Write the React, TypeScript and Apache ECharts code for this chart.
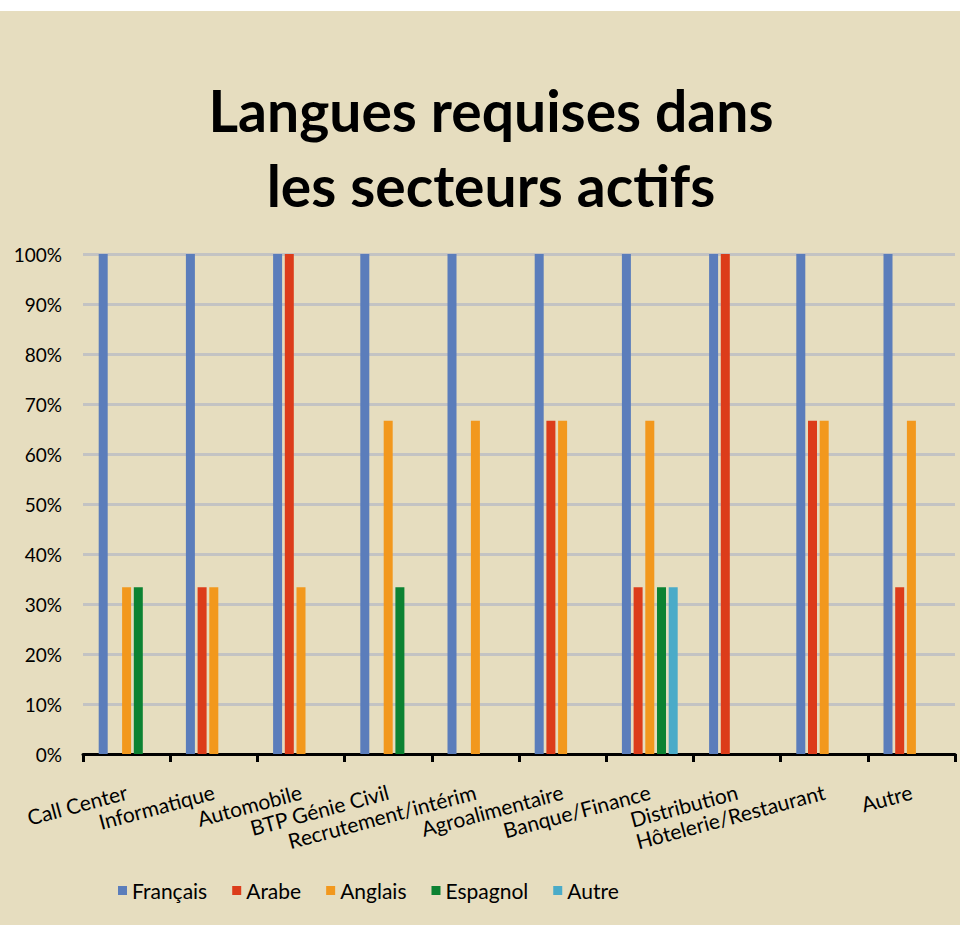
import React, { useEffect, useRef } from "react";
import * as echarts from "echarts";

const categories = [
  "Call Center",
  "Informatique",
  "Automobile",
  "BTP Génie Civil",
  "Recrutement/intérim",
  "Agroalimentaire",
  "Banque/Finance",
  "Distribution",
  "Hôtelerie/Restaurant",
  "Autre",
];

const seriesNames = ["Français", "Arabe", "Anglais", "Espagnol", "Autre"];
const seriesColors = ["#5b7dbb", "#dc3c1a", "#f2981d", "#0c8232", "#4aabc8"];

const francais = [100, 100, 100, 100, 100, 100, 100, 100, 100, 100];
const arabe = [0, 33.33, 100, 0, 0, 66.67, 33.33, 100, 66.67, 33.33];
const anglais = [33.33, 33.33, 33.33, 66.67, 66.67, 66.67, 66.67, 0, 66.67, 66.67];
const espagnol = [33.33, 0, 0, 33.33, 0, 0, 33.33, 0, 0, 0];
const autre = [0, 0, 0, 0, 0, 0, 33.33, 0, 0, 0];

const titleLines = ["Langues requises dans", "les secteurs actifs"];

const FONT = "Lato";

export default function App() {
  const ref = useRef<HTMLDivElement>(null);

  useEffect(() => {
    document.body.style.margin = "0";
    if (!ref.current) return;
    const chart = echarts.init(ref.current, null, { renderer: "svg" });
    const values = [francais, arabe, anglais, espagnol, autre];
    chart.setOption({
      animation: false,
      backgroundColor: "#e6ddbf",
      textStyle: { fontFamily: FONT },
      graphic: [
        { type: "rect", shape: { x: 0, y: 0, width: 960, height: 11 }, style: { fill: "#ffffff" } },
        {
          type: "text",
          x: 491,
          y: 110,
          style: {
            text: titleLines[0],
            font: `bold 57px ${FONT}`,
            fill: "#000",
            textAlign: "center",
            textVerticalAlign: "middle",
          },
        },
        {
          type: "text",
          x: 491,
          y: 185,
          style: {
            text: titleLines[1],
            font: `bold 57px ${FONT}`,
            fill: "#000",
            textAlign: "center",
            textVerticalAlign: "middle",
          },
        },
      ],
      grid: { left: 83, right: 5, top: 254, bottom: 171, containLabel: false },
      legend: {
        left: 113,
        top: 875,
        itemWidth: 9,
        itemHeight: 9,
        itemGap: 25,
        icon: "rect",
        textStyle: { fontSize: 21, color: "#000", fontFamily: FONT },
        data: seriesNames,
      },
      xAxis: {
        type: "category",
        data: categories,
        axisLine: { show: true, lineStyle: { color: "#000", width: 3 } },
        axisTick: { show: true, length: 8, lineStyle: { color: "#000", width: 3 } },
        axisLabel: {
          interval: 0,
          rotate: 15,
          margin: 37,
          fontSize: 21,
          color: "#000",
          fontFamily: FONT,
        },
      },
      yAxis: {
        type: "value",
        min: 0,
        max: 100,
        interval: 10,
        axisLine: { show: false },
        axisTick: { show: false },
        axisLabel: {
          formatter: "{value}%",
          fontSize: 19,
          color: "#000",
          margin: 21,
          fontFamily: FONT,
        },
        splitLine: { lineStyle: { color: "#c3c3c3", width: 3 } },
      },
      series: seriesNames.map((name, i) => ({
        name,
        type: "bar",
        data: values[i],
        barWidth: 9,
        barGap: "30%",
        itemStyle: { color: seriesColors[i] },
      })),
    });
    return () => chart.dispose();
  }, []);

  return (
    <div style={{ width: 960, height: 925, background: "#fff" }}>
      <div ref={ref} style={{ width: 960, height: 925 }} />
    </div>
  );
}
